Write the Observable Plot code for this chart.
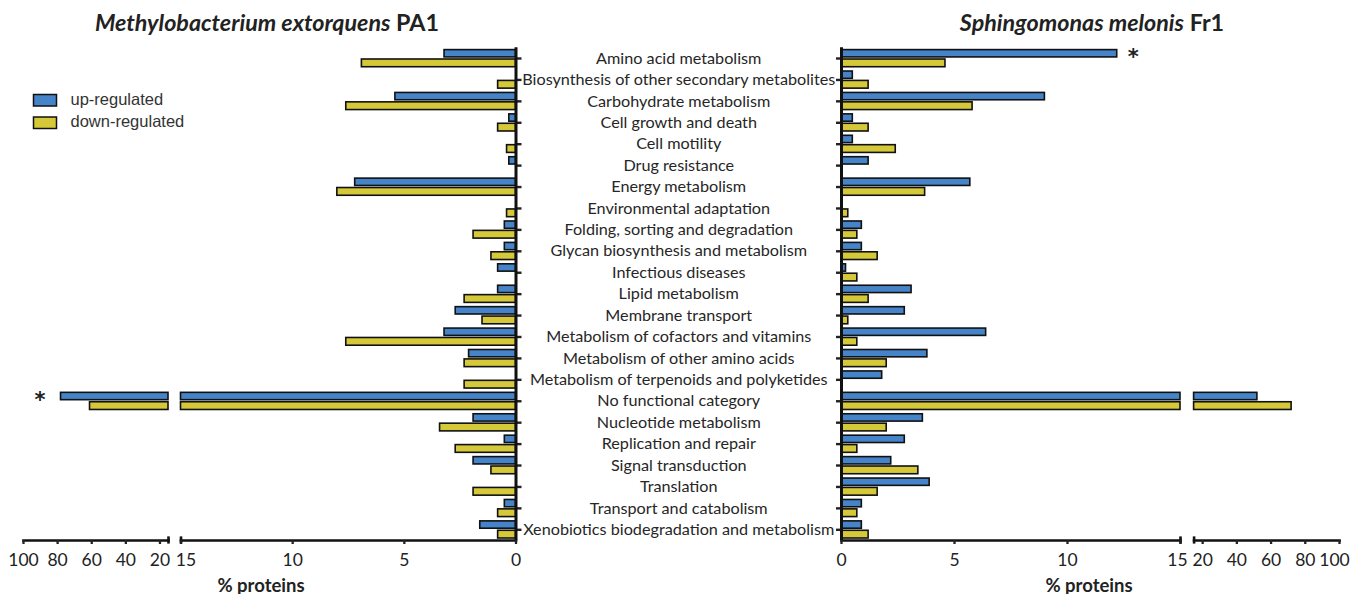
<!DOCTYPE html>
<html><head><meta charset="utf-8">
<script src="https://cdn.jsdelivr.net/npm/d3@7"></script>
<script src="https://cdn.jsdelivr.net/npm/@observablehq/plot@0.6"></script>
<style>
body{margin:0;background:#fff;}
#wrap{position:relative;width:1352px;height:594px;overflow:hidden;background:#fff;}
#wrap > svg{position:absolute;left:0;top:0;}
</style></head><body><div id="wrap"></div>
<script>
const categories = [
  "Amino acid metabolism",
  "Biosynthesis of other secondary metabolites",
  "Carbohydrate metabolism",
  "Cell growth and death",
  "Cell motility",
  "Drug resistance",
  "Energy metabolism",
  "Environmental adaptation",
  "Folding, sorting and degradation",
  "Glycan biosynthesis and metabolism",
  "Infectious diseases",
  "Lipid metabolism",
  "Membrane transport",
  "Metabolism of cofactors and vitamins",
  "Metabolism of other amino acids",
  "Metabolism of terpenoids and polyketides",
  "No functional category",
  "Nucleotide metabolism",
  "Replication and repair",
  "Signal transduction",
  "Translation",
  "Transport and catabolism",
  "Xenobiotics biodegradation and metabolism"
];
// Methylobacterium extorquens PA1 (% proteins)
const pa1Up   = [3.2, 0, 5.4, 0.3, 0, 0.3, 7.2, 0, 0.5, 0.5, 0.8, 0.8, 2.7, 3.2, 2.1, 0, 78, 1.9, 0.5, 1.9, 0, 0.5, 1.6];
const pa1Down = [6.9, 0.8, 7.6, 0.8, 0.4, 0, 8.0, 0.4, 1.9, 1.1, 0, 2.3, 1.5, 7.6, 2.3, 2.3, 61, 3.4, 2.7, 1.1, 1.9, 0.8, 0.8];
// Sphingomonas melonis Fr1 (% proteins)
const fr1Up   = [12.2, 0.5, 9.0, 0.5, 0.5, 1.2, 5.7, 0, 0.9, 0.9, 0.2, 3.1, 2.8, 6.4, 3.8, 1.8, 52, 3.6, 2.8, 2.2, 3.9, 0.9, 0.9];
const fr1Down = [4.6, 1.2, 5.8, 1.2, 2.4, 0, 3.7, 0.3, 0.7, 1.6, 0.7, 1.2, 0.3, 0.7, 2.0, 0, 72, 2.0, 0.7, 3.4, 1.6, 0.7, 1.2];
// significance markers
const pa1Star = ["No functional category"];
const fr1Star = ["Amino acid metabolism"];
const mainTicks = [0, 5, 10, 15];
const brokenTicks = [20, 40, 60, 80, 100];
const breakValue = 15;
const seriesNames = ["up-regulated", "down-regulated"];
const seriesColors = ["#4584c8", "#d5c93a"];

const W = 1352, H = 594, TOP = 47.3, AXIS_Y = 540;
const FONT = "Lato, sans-serif";
const TICK_FONT = 17.5;
const wrap = document.getElementById("wrap");

const rows = (vals) => categories.map((c, i) => ({category: c, value: vals[i]})).filter(d => d.value > 0);

const barOpts = {stroke: "#111", strokeWidth: 1.6};
const upInset = {insetTop: 2.3, insetBottom: 11.8};
const downInset = {insetTop: 11.7, insetBottom: 2.0};
const axisText = {label: null, fontSize: TICK_FONT};
const yScale = {type: "band", domain: categories, padding: 0, round: false, axis: null};

function panel({ml, mr, domain, reverse, up, down, broken, yAnchor, stars = [], starDx = 0, breakDx = 0, endDx = 0}) {
  const upData = rows(up).filter(d => !broken || d.value > breakValue);
  const downData = rows(down).filter(d => !broken || d.value > breakValue);
  const starData = rows(up).filter(d => stars.includes(d.category));
  const marks = [
    Plot.barX(upData, {x1: 0, x2: "value", y: "category", fill: seriesColors[0], ...barOpts, ...upInset}),
    Plot.barX(downData, {x1: 0, x2: "value", y: "category", fill: seriesColors[1], ...barOpts, ...downInset}),
    Plot.frame({anchor: "bottom", stroke: "#111", strokeWidth: 2.7}),
    Plot.tickX([breakValue], {x: d => d, y: () => categories[categories.length - 1], stroke: "#111", strokeWidth: 2.6, insetTop: 17.8, insetBottom: -3.6}),
    Plot.text(starData, {x: "value", y: "category", text: () => "*", dx: starDx, dy: -1, fontSize: 21, fontWeight: "bold", fontFamily: "DejaVu Sans, sans-serif", fill: "#222"})
  ];
  if (broken) {
    const last = brokenTicks[brokenTicks.length - 1];
    marks.push(Plot.axisX({ticks: brokenTicks, tickSize: 4, tickPadding: 9, strokeWidth: 2.3, ...axisText, tickFormat: d => d === last ? "" : String(d)}));
    marks.push(Plot.axisX({ticks: [last], tickSize: 0, tickPadding: 13, ...axisText, dx: endDx, tickFormat: d => String(d)}));
  } else {
    marks.push(Plot.axisX({ticks: mainTicks, tickSize: 4, tickPadding: 9, strokeWidth: 2.3, ...axisText, tickFormat: d => d === breakValue ? "" : String(d)}));
    marks.push(Plot.axisX({ticks: [breakValue], tickSize: 0, tickPadding: 13, ...axisText, dx: breakDx, tickFormat: d => String(d)}));
  }
  if (yAnchor) {
    marks.push(Plot.axisY({anchor: yAnchor, tickSize: 5, strokeWidth: 2.4, tickFormat: () => "", label: null}));
    marks.push(Plot.ruleX([0], {stroke: "#111", strokeWidth: 3}));
  }
  return Plot.plot({
    width: W, height: H,
    marginTop: TOP, marginBottom: H - AXIS_Y, marginLeft: ml, marginRight: mr,
    x: {domain, reverse, clamp: true},
    y: yScale,
    style: {background: "transparent", overflow: "visible", fontFamily: FONT, fontSize: "16px", color: "#222"},
    marks
  });
}

// Left: M. extorquens PA1 (broken part + main part)
wrap.appendChild(panel({ml: 23, mr: W - 168, domain: [15, 100], reverse: true, up: pa1Up, down: pa1Down, broken: true, stars: pa1Star, starDx: -21}));
wrap.appendChild(panel({ml: 180.5, mr: W - 515.5, domain: [0, 15], reverse: true, up: pa1Up, down: pa1Down, broken: false, yAnchor: "right", breakDx: 5}));
// Right: S. melonis Fr1 (main part + broken part)
wrap.appendChild(panel({ml: 841, mr: W - 1180, domain: [0, 15], reverse: false, up: fr1Up, down: fr1Down, broken: false, yAnchor: "left", stars: fr1Star, starDx: 16, breakDx: -3}));
wrap.appendChild(panel({ml: 1193.6, mr: W - 1339, domain: [15, 100], reverse: false, up: fr1Up, down: fr1Down, broken: true, endDx: -5}));

// Category labels in the middle
wrap.appendChild(Plot.plot({
  width: W, height: H,
  marginTop: TOP, marginBottom: H - AXIS_Y, marginLeft: 515.5, marginRight: W - 841,
  y: yScale,
  x: {axis: null},
  style: {background: "transparent", overflow: "visible", fontFamily: FONT, color: "#262626"},
  marks: [Plot.text(categories, {y: d => d, frameAnchor: "middle", text: d => d, fontSize: 16.2, fill: "#262626"})]
}));

// Titles, legend, axis titles
const ns = "http://www.w3.org/2000/svg";
const ov = document.createElementNS(ns, "svg");
ov.setAttribute("width", W); ov.setAttribute("height", H);
ov.innerHTML = `
<g font-family="Lato, sans-serif" font-weight="bold" font-size="23.3" fill="#222" text-anchor="middle">
  <text x="267" y="31" font-style="italic">Methylobacterium extorquens<tspan font-style="normal"> PA1</tspan></text>
  <text x="1092" y="31" font-style="italic">Sphingomonas melonis<tspan font-style="normal"> Fr1</tspan></text>
</g>
<g font-family="Lato, sans-serif" font-weight="bold" font-size="18.5" fill="#222" text-anchor="middle">
  <text x="261" y="591.5">% proteins</text>
  <text x="1089" y="591.5">% proteins</text>
</g>
<g font-family="'Liberation Sans', Arial, sans-serif" font-size="16.5" fill="#333">
  <rect x="33.5" y="94.5" width="23" height="11.5" fill="${seriesColors[0]}" stroke="#111" stroke-width="1.5"/>
  <rect x="33.5" y="117" width="23" height="11.5" fill="${seriesColors[1]}" stroke="#111" stroke-width="1.5"/>
  <text x="70.5" y="104.5">${seriesNames[0]}</text>
  <text x="70.5" y="127">${seriesNames[1]}</text>
</g>`;
wrap.appendChild(ov);
</script></body></html>
